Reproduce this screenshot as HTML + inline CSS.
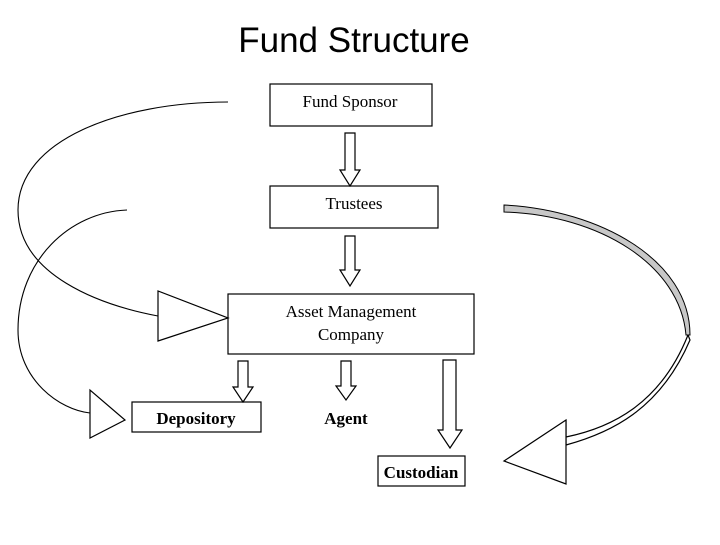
<!DOCTYPE html>
<html><head><style>
body{margin:0;background:#fff;width:720px;height:540px;overflow:hidden}
</style></head><body>
<svg width="720" height="540" xmlns="http://www.w3.org/2000/svg" font-family="Liberation Serif, serif">
<text x="354" y="52" font-family="Liberation Sans, sans-serif" font-size="35" text-anchor="middle">Fund Structure</text>
<g fill="#fff" stroke="#000" stroke-width="1.2">
<rect x="270" y="84" width="162" height="42"/>
<rect x="270" y="186" width="168" height="42"/>
<rect x="228" y="294" width="246" height="60"/>
<rect x="132" y="402" width="129" height="30"/>
<rect x="378" y="456" width="87" height="30"/>
<path d="M345,133 H355 V170 H360 L350,186 L340,170 H345 Z"/>
<path d="M345,236 H355 V270 H360 L350,286 L340,270 H345 Z"/>
<path d="M238,361 H248 V387 H253 L243,402 L233,387 H238 Z"/>
<path d="M341,361 H351 V386 H356 L346,400 L336,386 H341 Z"/>
<path d="M443,360 H456 V430 H462 L450,448 L438,430 H443 Z"/>
<path d="M158,291 L158,341 L228,318 Z"/>
<path d="M90,390 L90,438 L125,420 Z"/>
<path d="M566,420 L566,445 C610,433 660,410 690,340 L688,335 C660,405 610,428 566,437 Z" />
<path d="M504,461 L566,420 L566,484 Z"/>
</g>
<g fill="none" stroke="#000" stroke-width="1.1">
<path d="M228,102 C120,102 18,140 18,210 C18,275 100,305 158,316"/>
<path d="M127,210 C70,212 18,260 18,330 C18,380 60,410 90,413"/>
</g>
<path d="M504,205 C600,210 690,260 690,335 L686,335 C680,265 600,215 504,212 Z" fill="#c8c8c8" stroke="#000" stroke-width="1"/>
<text x="350" y="107" font-size="17" text-anchor="middle">Fund Sponsor</text>
<text x="354" y="209" font-size="17" text-anchor="middle">Trustees</text>
<text x="351" y="317" font-size="17" text-anchor="middle">Asset Management</text>
<text x="351" y="340" font-size="17" text-anchor="middle">Company</text>
<text x="196" y="424" font-size="17" font-weight="bold" text-anchor="middle">Depository</text>
<text x="346" y="424" font-size="17" font-weight="bold" text-anchor="middle">Agent</text>
<text x="421" y="478" font-size="17" font-weight="bold" text-anchor="middle">Custodian</text>
</svg>
</body></html>
